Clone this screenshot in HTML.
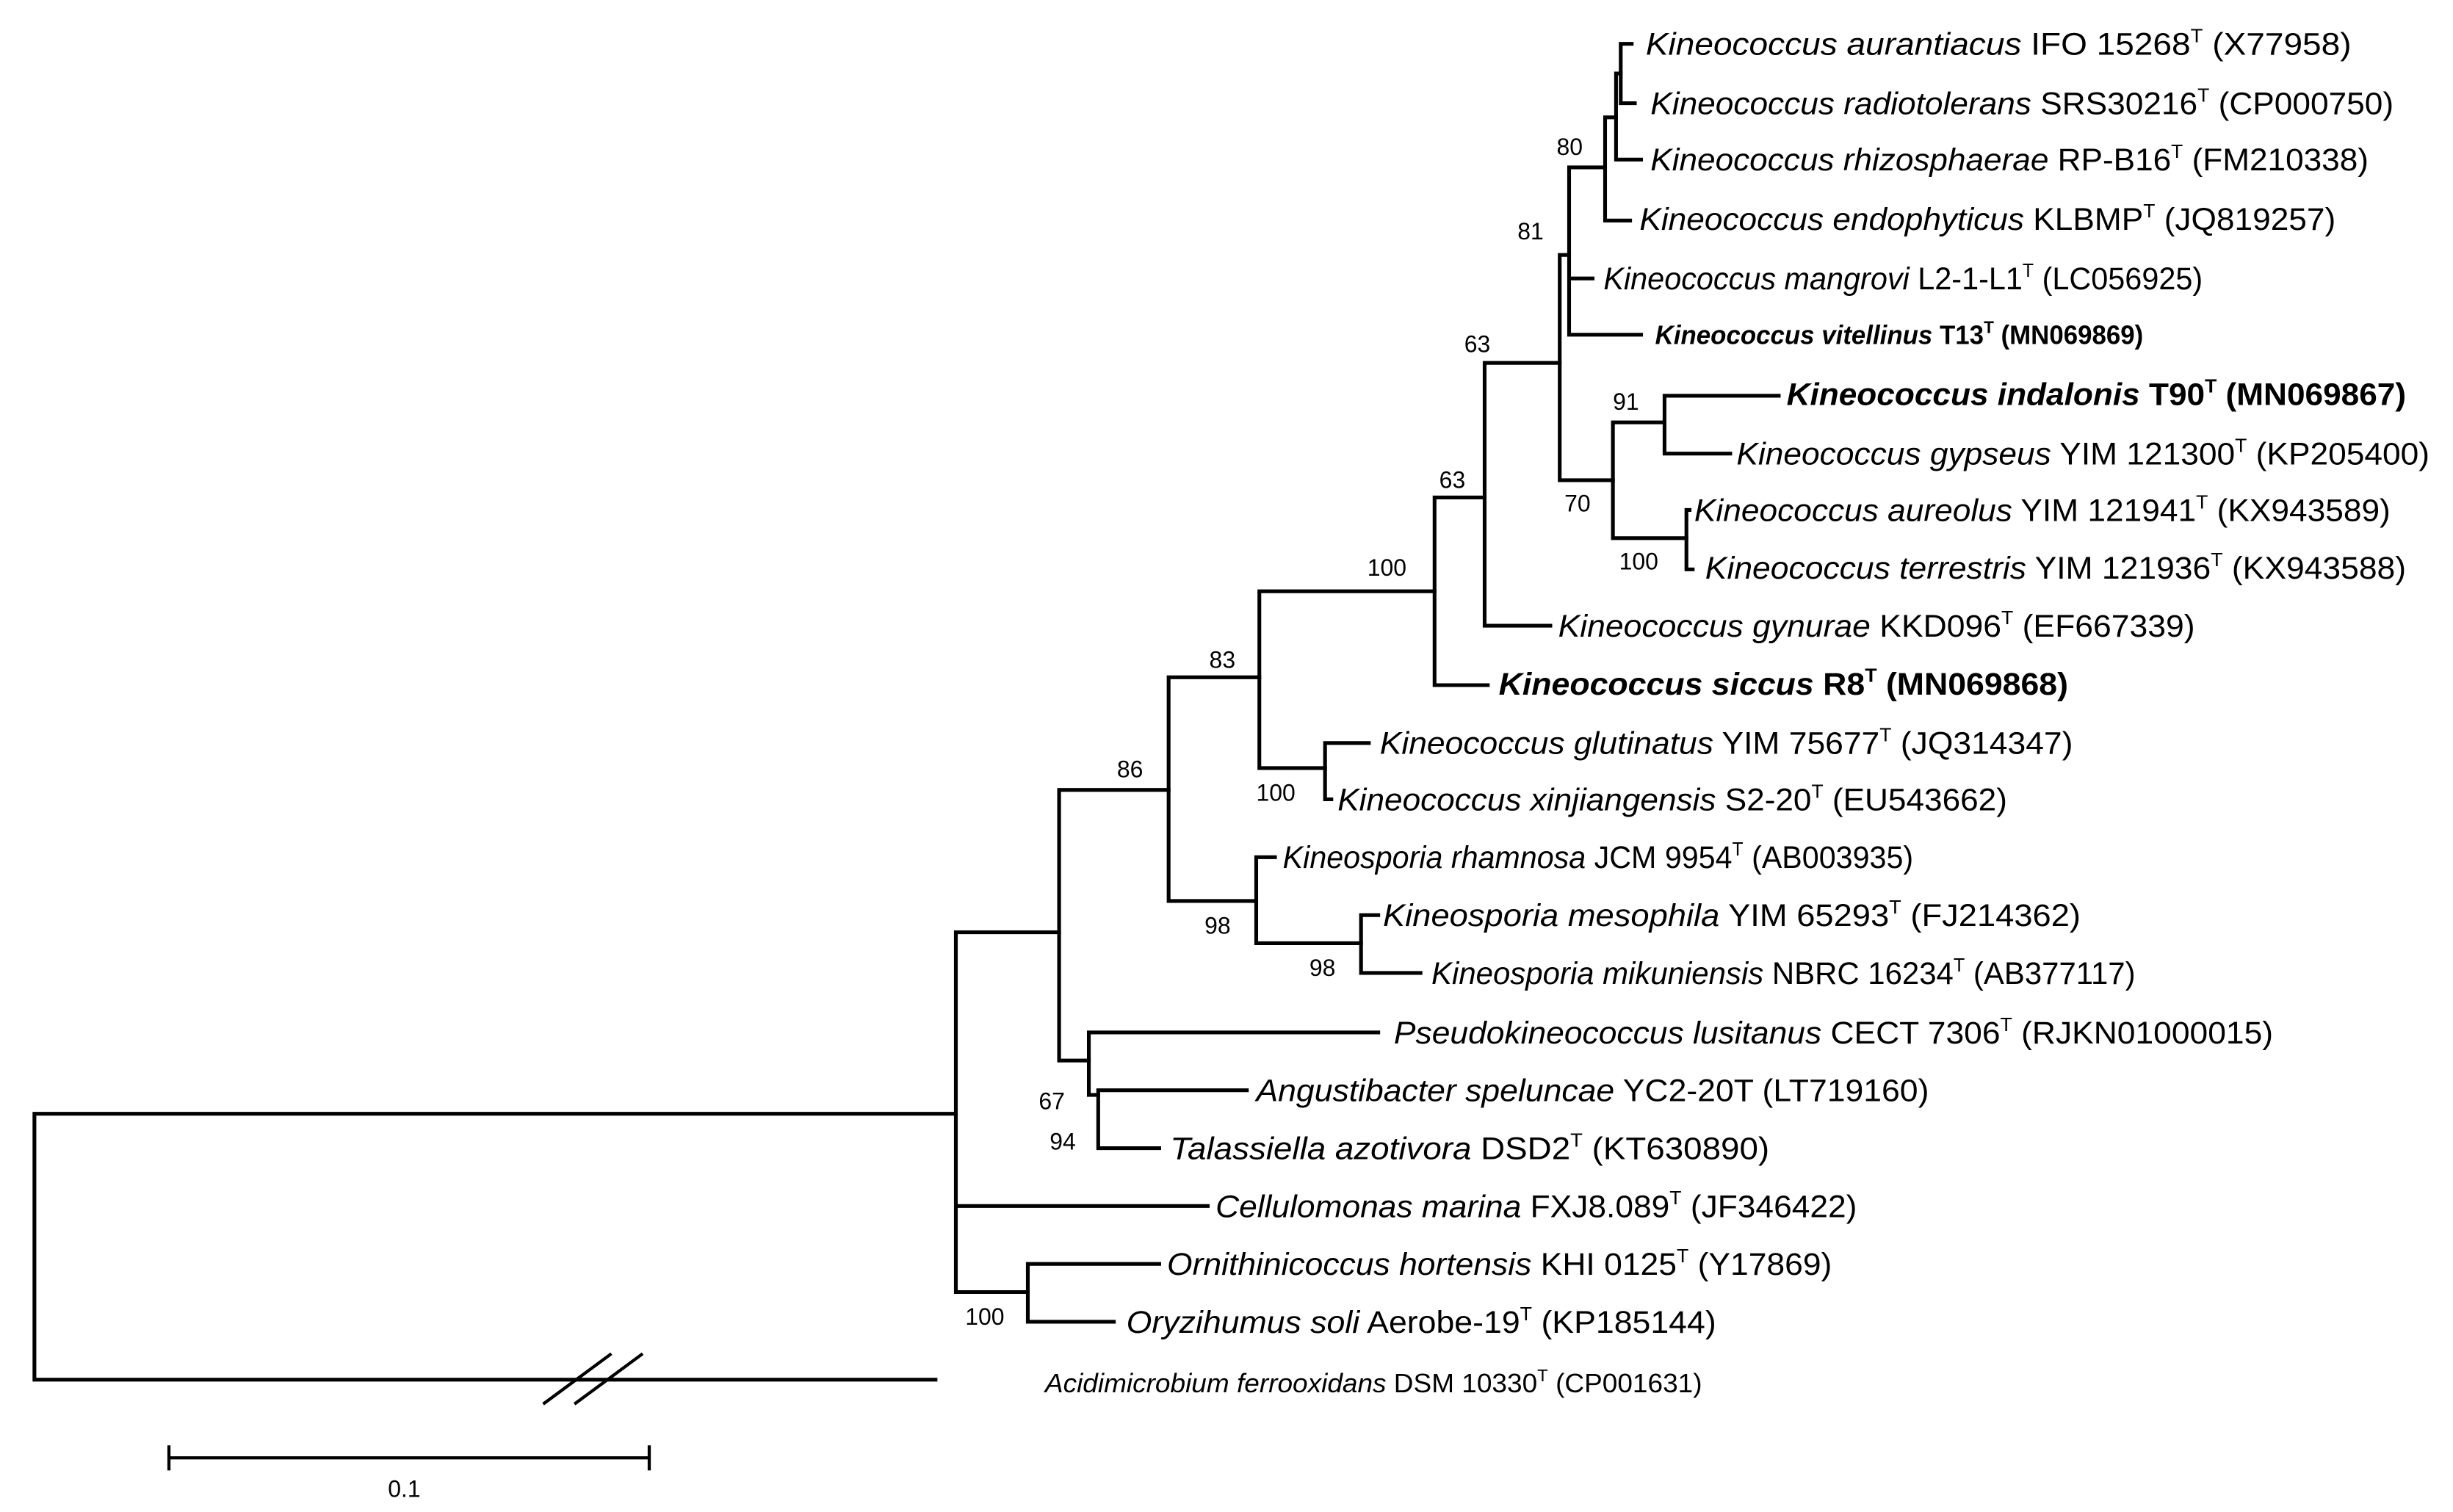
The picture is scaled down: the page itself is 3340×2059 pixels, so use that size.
<!DOCTYPE html>
<html><head><meta charset="utf-8"><style>
html,body{margin:0;padding:0;background:#fff;}
svg{display:block;}
text{font-family:"Liberation Sans",Arial,sans-serif;fill:#000;}
.t{font-size:20px;}
.b{font-size:15px;}
</style></head><body>
<svg width="3340" height="2059" viewBox="0 0 1568 966.6" preserveAspectRatio="none" xmlns="http://www.w3.org/2000/svg">
<g stroke="#000" stroke-width="2.4" fill="none" stroke-linecap="square">
<path d="M22 712V882M22 712H611M22 882H598"/>
<path d="M348 897L390 866M368 897L410 866" stroke-width="2"/>
<path d="M611 596V826M611 596H677M611 771H772M611 826H657"/>
<path d="M657 808V845M657 808H741M657 845H712"/>
<path d="M677 505V678M677 505H747M677 678H696"/>
<path d="M696 660V700M696 660H881M696 700H702"/>
<path d="M702 697V734M702 697H797M702 734H741"/>
<path d="M747 433V576M747 433H805M747 576H803"/>
<path d="M803 548V603M803 548H815M803 603H870"/>
<path d="M870 585V622M870 585H881M870 622H908"/>
<path d="M805 378V491M805 378H917M805 491H847"/>
<path d="M847 475V511M847 475H875M847 511H851"/>
<path d="M917 318V438M917 318H949M917 438H951"/>
<path d="M949 232V400M949 232H997M949 400H991"/>
<path d="M997 163V307M997 163H1003M997 307H1031"/>
<path d="M1003 107V214M1003 107H1026M1003 178H1018M1003 214H1049"/>
<path d="M1026 75V141M1026 75H1033M1026 141H1042"/>
<path d="M1033 47V102M1033 47H1036M1033 102H1049"/>
<path d="M1036 28V66M1036 28H1043M1036 66H1045"/>
<path d="M1031 270V344M1031 270H1064M1031 344H1078"/>
<path d="M1064 253V290M1064 253H1137M1064 290H1106"/>
<path d="M1078 326V364M1078 326H1080M1078 364H1082"/>
<path d="M108 932H415M108 925V939M415 925V939" stroke-width="2"/>
</g>
<g class="b">
<text x="995" y="99">80</text>
<text x="970" y="153">81</text>
<text x="936" y="225">63</text>
<text x="920" y="312">63</text>
<text x="1031" y="262">91</text>
<text x="1000" y="327">70</text>
<text x="1035" y="364">100</text>
<text x="874" y="368">100</text>
<text x="773" y="427">83</text>
<text x="803" y="512">100</text>
<text x="714" y="497">86</text>
<text x="770" y="597">98</text>
<text x="837" y="624">98</text>
<text x="664" y="709">67</text>
<text x="671" y="735">94</text>
<text x="617" y="847">100</text>
<text x="248" y="957">0.1</text>
</g>
<g class="t">
<text x="1052" y="35" textLength="451" lengthAdjust="spacingAndGlyphs"><tspan font-style="italic">Kineococcus aurantiacus</tspan> IFO 15268<tspan font-size="12" dy="-8">T</tspan><tspan dy="8"> (X77958)</tspan></text>
<text x="1055" y="73" textLength="475" lengthAdjust="spacingAndGlyphs"><tspan font-style="italic">Kineococcus radiotolerans</tspan> SRS30216<tspan font-size="12" dy="-8">T</tspan><tspan dy="8"> (CP000750)</tspan></text>
<text x="1055" y="109" textLength="459" lengthAdjust="spacingAndGlyphs"><tspan font-style="italic">Kineococcus rhizosphaerae</tspan> RP-B16<tspan font-size="12" dy="-8">T</tspan><tspan dy="8"> (FM210338)</tspan></text>
<text x="1048" y="147" textLength="445" lengthAdjust="spacingAndGlyphs"><tspan font-style="italic">Kineococcus endophyticus</tspan> KLBMP<tspan font-size="12" dy="-8">T</tspan><tspan dy="8"> (JQ819257)</tspan></text>
<text x="1025" y="185" textLength="383" lengthAdjust="spacingAndGlyphs"><tspan font-style="italic">Kineococcus mangrovi</tspan> L2-1-L1<tspan font-size="12" dy="-8">T</tspan><tspan dy="8"> (LC056925)</tspan></text>
<text x="1058" y="220" textLength="312" lengthAdjust="spacingAndGlyphs" font-weight="bold" font-size="17"><tspan font-style="italic">Kineococcus  vitellinus</tspan>  T13<tspan font-size="11" dy="-7">T</tspan><tspan dy="7"> (MN069869)</tspan></text>
<text x="1142" y="259" textLength="396" lengthAdjust="spacingAndGlyphs" font-weight="bold"><tspan font-style="italic">Kineococcus indalonis</tspan> T90<tspan font-size="12" dy="-8">T</tspan><tspan dy="8"> (MN069867)</tspan></text>
<text x="1110" y="297" textLength="443" lengthAdjust="spacingAndGlyphs"><tspan font-style="italic">Kineococcus gypseus</tspan> YIM 121300<tspan font-size="12" dy="-8">T</tspan><tspan dy="8"> (KP205400)</tspan></text>
<text x="1083" y="333" textLength="445" lengthAdjust="spacingAndGlyphs"><tspan font-style="italic">Kineococcus aureolus</tspan> YIM 121941<tspan font-size="12" dy="-8">T</tspan><tspan dy="8"> (KX943589)</tspan></text>
<text x="1090" y="370" textLength="448" lengthAdjust="spacingAndGlyphs"><tspan font-style="italic">Kineococcus terrestris</tspan> YIM 121936<tspan font-size="12" dy="-8">T</tspan><tspan dy="8"> (KX943588)</tspan></text>
<text x="996" y="407" textLength="407" lengthAdjust="spacingAndGlyphs"><tspan font-style="italic">Kineococcus gynurae</tspan> KKD096<tspan font-size="12" dy="-8">T</tspan><tspan dy="8"> (EF667339)</tspan></text>
<text x="958" y="444" textLength="364" lengthAdjust="spacingAndGlyphs" font-weight="bold"><tspan font-style="italic">Kineococcus siccus</tspan> R8<tspan font-size="12" dy="-8">T</tspan><tspan dy="8"> (MN069868)</tspan></text>
<text x="882" y="482" textLength="443" lengthAdjust="spacingAndGlyphs"><tspan font-style="italic">Kineococcus glutinatus</tspan> YIM 75677<tspan font-size="12" dy="-8">T</tspan><tspan dy="8"> (JQ314347)</tspan></text>
<text x="855" y="518" textLength="428" lengthAdjust="spacingAndGlyphs"><tspan font-style="italic">Kineococcus xinjiangensis</tspan> S2-20<tspan font-size="12" dy="-8">T</tspan><tspan dy="8"> (EU543662)</tspan></text>
<text x="820" y="555" textLength="403" lengthAdjust="spacingAndGlyphs"><tspan font-style="italic">Kineosporia rhamnosa</tspan> JCM 9954<tspan font-size="12" dy="-8">T</tspan><tspan dy="8"> (AB003935)</tspan></text>
<text x="884" y="592" textLength="446" lengthAdjust="spacingAndGlyphs"><tspan font-style="italic">Kineosporia mesophila</tspan> YIM 65293<tspan font-size="12" dy="-8">T</tspan><tspan dy="8"> (FJ214362)</tspan></text>
<text x="915" y="629" textLength="450" lengthAdjust="spacingAndGlyphs"><tspan font-style="italic">Kineosporia mikuniensis</tspan> NBRC 16234<tspan font-size="12" dy="-8">T</tspan><tspan dy="8"> (AB377117)</tspan></text>
<text x="891" y="667" textLength="562" lengthAdjust="spacingAndGlyphs"><tspan font-style="italic">Pseudokineococcus lusitanus</tspan> CECT 7306<tspan font-size="12" dy="-8">T</tspan><tspan dy="8"> (RJKN01000015)</tspan></text>
<text x="803" y="704" textLength="430" lengthAdjust="spacingAndGlyphs"><tspan font-style="italic">Angustibacter speluncae</tspan> YC2-20T (LT719160)</text>
<text x="748" y="741" textLength="383" lengthAdjust="spacingAndGlyphs"><tspan font-style="italic">Talassiella azotivora</tspan> DSD2<tspan font-size="12" dy="-8">T</tspan><tspan dy="8"> (KT630890)</tspan></text>
<text x="777" y="778" textLength="410" lengthAdjust="spacingAndGlyphs"><tspan font-style="italic">Cellulomonas marina</tspan> FXJ8.089<tspan font-size="12" dy="-8">T</tspan><tspan dy="8"> (JF346422)</tspan></text>
<text x="746" y="815" textLength="425" lengthAdjust="spacingAndGlyphs"><tspan font-style="italic">Ornithinicoccus hortensis</tspan> KHI 0125<tspan font-size="12" dy="-8">T</tspan><tspan dy="8"> (Y17869)</tspan></text>
<text x="720" y="852" textLength="377" lengthAdjust="spacingAndGlyphs"><tspan font-style="italic">Oryzihumus soli</tspan> Aerobe-19<tspan font-size="12" dy="-8">T</tspan><tspan dy="8"> (KP185144)</tspan></text>
<text x="668" y="890" textLength="420" lengthAdjust="spacingAndGlyphs" font-size="17"><tspan font-style="italic">Acidimicrobium  ferrooxidans</tspan>  DSM 10330<tspan font-size="11" dy="-7">T</tspan><tspan dy="7"> (CP001631)</tspan></text>
</g>
</svg>
</body></html>
